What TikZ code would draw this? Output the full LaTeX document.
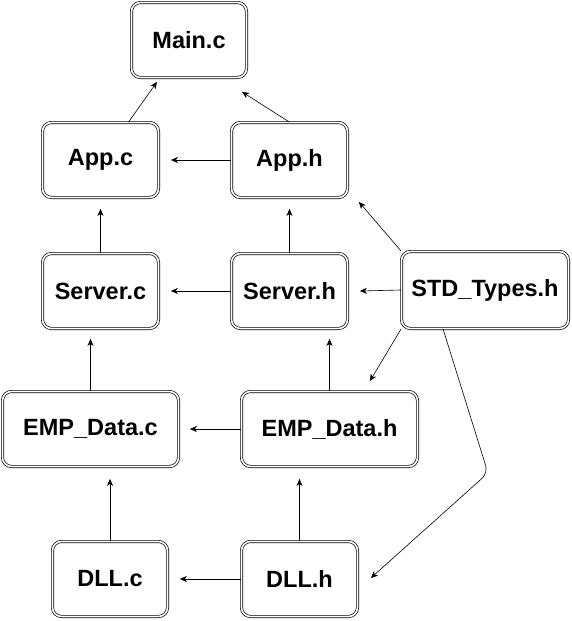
\documentclass[tikz,border=0pt]{standalone}
\usepackage{fontspec}
\setmainfont{Liberation Sans}
\usetikzlibrary{arrows.meta,calc}
\begin{document}
\begin{tikzpicture}[x=1pt,y=-1pt,
  filebox/.style={draw, double, double distance=1.6pt, line width=0.7pt, rounded corners=9pt,
    inner sep=0pt, minimum height=75pt, font=\bfseries\fontsize{23.5}{25}\selectfont},
  dep/.style={-{Stealth[length=7pt,width=6pt,inset=2pt]}, line width=0.6pt}]
\useasboundingbox (0,0) rectangle (571,621);
\node[filebox, minimum width=115pt] (main) at (189,40) {Main.c};
\node[filebox, minimum width=116pt] (appc) at (100.5,160) {App.c};
\node[filebox, minimum width=116pt] (apph) at (289.5,160) {App.h};
\node[filebox, minimum width=116pt] (serverc) at (100.5,291) {Server.c};
\node[filebox, minimum width=116pt] (serverh) at (289.5,291) {Server.h};
\node[filebox, minimum width=167pt, minimum height=77pt] (std) at (485,290) {STD\_Types.h};
\node[filebox, minimum width=176pt] (empc) at (90.5,429) {EMP\_Data.c};
\node[filebox, minimum width=176pt] (emph) at (329.5,429) {EMP\_Data.h};
\node[filebox, minimum width=115pt] (dllc) at (110,579) {DLL.c};
\node[filebox, minimum width=116pt] (dllh) at (299.5,579) {DLL.h};
% connectors
\draw[dep] ($(appc.north)+(28,0)$) -- ($(main.south)+(-32,4)$);
\draw[dep] (apph.north) -- ($(main.south)+(53,14)$);
\draw[dep] (apph.west) -- ($(appc.east)+(12,0)$);
\draw[dep] (serverc.north) -- ($(appc.south)+(0,11)$);
\draw[dep] (serverh.north) -- ($(apph.south)+(0,11)$);
\draw[dep] (serverh.west) -- ($(serverc.east)+(12,0)$);
\draw[dep] (std.north west) -- ($(apph.south east)+(11,4)$);
\draw[dep] (std.west) -- ($(serverh.east)+(12,0)$);
\draw[dep] (std.south west) -- ($(emph.north east)+(-48,-10)$);
\coordinate (bend) at (488,473);
\draw[dep, rounded corners=8pt] ($(std.south)+(-42,0)$) -- (bend) -- ($(dllh.east)+(13,-1)$);
\draw[dep] (empc.north) -- ($(empc.north |- serverc.south)+(0,10)$);
\draw[dep] (emph.north) -- ($(emph.north |- serverh.south)+(0,10)$);
\draw[dep] (emph.west) -- ($(empc.east)+(11,0)$);
\draw[dep] (dllc.north) -- ($(dllc.north |- empc.south)+(0,12)$);
\draw[dep] (dllh.north) -- ($(dllh.north |- emph.south)+(0,12)$);
\draw[dep] (dllh.west) -- ($(dllc.east)+(12,0)$);
\end{tikzpicture}
\end{document}
